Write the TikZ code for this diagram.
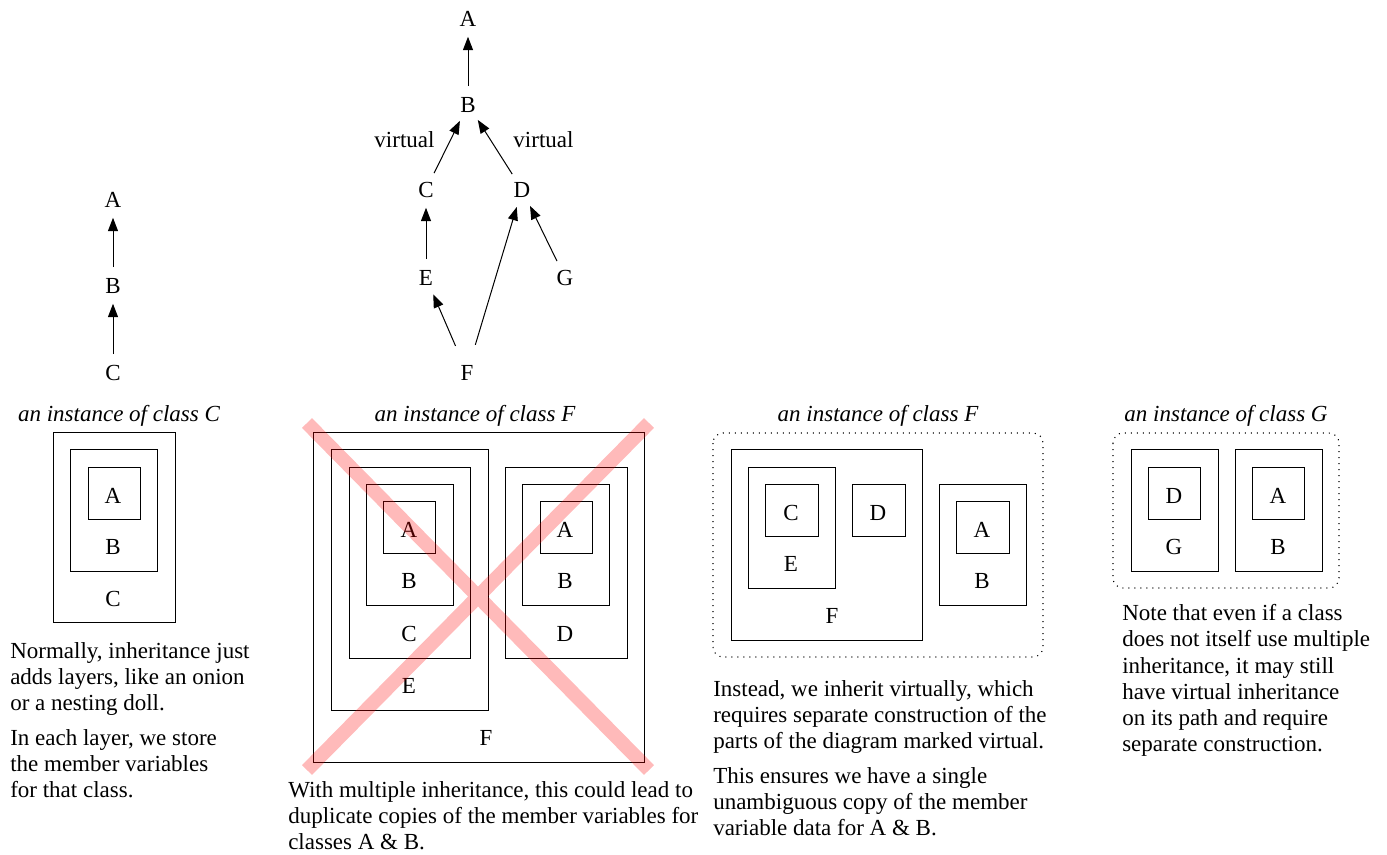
\documentclass[tikz,border=0pt]{standalone}
\usepackage{fontspec}
\setmainfont{Liberation Serif}
\usetikzlibrary{arrows.meta}

\begin{document}
\begin{tikzpicture}[x=0.75pt, y=-0.75pt,
  every node/.style={font=\fontsize{17.25}{19.7}\selectfont},
  cls/.style={circle, inner sep=0pt, minimum size=27pt},
  inh/.style={-{Triangle[length=10pt, width=7.5pt]}, line width=0.75pt},
  layer/.style={draw, line width=0.75pt},
  group/.style={draw, line width=0.8pt, dash pattern=on 0.8pt off 3.7pt, rounded corners=7.5pt},
  inst/.style={font=\fontsize{17.25}{19.7}\selectfont\itshape, anchor=base},
  note/.style={anchor=north west, inner sep=0pt, align=left},
  xmark/.style={draw=red, opacity=0.27, line width=10.5pt}]
  \useasboundingbox (0,0) rectangle (1387,854);

  % plain inheritance
  \node [cls] (a1) at (113,199.5) {A};
  \node [cls] (b1) at (113,285.5) {B};
  \node [cls] (c1) at (113,372.5) {C};
  \draw [inh] (b1) -- (a1);
  \draw [inh] (c1) -- (b1);

  % multiple inheritance
  \node [cls] (a) at (468,18.5) {A};
  \node [cls] (b) at (468,104.5) {B};
  \node [cls] (c) at (426,189.5) {C};
  \node [cls] (d) at (522,189.5) {D};
  \node [cls] (e) at (426,277.5) {E};
  \node [cls] (g) at (565,277.5) {G};
  \node [cls] (f) at (467,372.5) {F};
  \node [anchor=base] (vc) at (404.5,147) {virtual};
  \node [anchor=base] (vd) at (543.5,147) {virtual};
  \draw [inh] (b) -- (a);
  \draw [inh] (c) -- (b);
  \draw [inh] (d) -- (b);
  \draw [inh] (e) -- (c);
  \draw [inh, shorten <=8pt] (f) -- (e);
  \draw [inh, shorten <=8pt] (f) -- (d);
  \draw [inh] (g) -- (d);

  % an instance of class C
  \node [inst] (capC) at (119,421) {an instance of class C};
  \draw [layer] (53,432) rectangle (175,622);
  \draw [layer] (70,449) rectangle (157,571);
  \draw [layer] (88,467) rectangle (140,519);
  \node (lA) at (113,496) {A};
  \node (lB) at (113,547) {B};
  \node (lC) at (113,598.5) {C};

  % an instance of class F, duplicated bases
  \node [inst] (capF) at (475,421) {an instance of class F};
  \draw [layer] (313,432) rectangle (644,762);
  \draw [layer] (331,449) rectangle (488,710);
  \draw [layer] (349,467) rectangle (470,658);
  \draw [layer] (366,484) rectangle (453,605);
  \draw [layer] (383,501) rectangle (435,553);
  \draw [layer] (505,467) rectangle (627,658);
  \draw [layer] (522,484) rectangle (609,605);
  \draw [layer] (540,501) rectangle (592,553);
  \node (dA) at (409,530) {A};
  \node (dB) at (409,581) {B};
  \node (dC) at (409,634) {C};
  \node (dE) at (409,686) {E};
  \node (dF) at (486,738) {F};
  \node (dA2) at (565,530) {A};
  \node (dB2) at (565,581) {B};
  \node (dD) at (565,634) {D};
  \coordinate (x1) at (307,423);
  \coordinate (x2) at (649,770);
  \coordinate (x3) at (649,423);
  \coordinate (x4) at (307,770);
  \draw [xmark] (x1) -- (x2) (x3) -- (x4);

  % an instance of class F, virtual bases
  \node [inst] (capV) at (878,421) {an instance of class F};
  \draw [group] (713,433) rectangle (1043,657);
  \draw [layer] (731,449) rectangle (922,640);
  \draw [layer] (748,467) rectangle (835,588);
  \draw [layer] (765,484) rectangle (818,536);
  \draw [layer] (852,484) rectangle (905,536);
  \draw [layer] (939,484) rectangle (1026,605);
  \draw [layer] (956,501) rectangle (1009,553);
  \node (vC) at (791,513) {C};
  \node (vD) at (878,513) {D};
  \node (vE) at (791,564) {E};
  \node (vF) at (832,616) {F};
  \node (vA) at (982,530) {A};
  \node (vB) at (982,581) {B};

  % an instance of class G
  \node [inst] (capG) at (1226,421) {an instance of class G};
  \draw [group] (1113,433) rectangle (1339,588);
  \draw [layer] (1131,449) rectangle (1218,571);
  \draw [layer] (1148,467) rectangle (1200,519);
  \draw [layer] (1235,449) rectangle (1322,571);
  \draw [layer] (1252,467) rectangle (1304,519);
  \node (gD) at (1174,496) {D};
  \node (gG) at (1174,547) {G};
  \node (gA) at (1278,496) {A};
  \node (gB) at (1278,547) {B};

  % notes
  \node [note] (n1) at (10,642) {Normally, inheritance just\\adds layers, like an onion\\or a nesting doll.};
  \node [note] (n2) at (10,729) {In each layer, we store\\the member variables\\for that class.};
  \node [note] (n3) at (288,781) {With multiple inheritance, this could lead to\\duplicate copies of the member variables for\\classes A \& B.};
  \node [note] (n4) at (713,680) {Instead, we inherit virtually, which\\requires separate construction of the\\parts of the diagram marked virtual.};
  \node [note] (n5) at (713,767) {This ensures we have a single\\unambiguous copy of the member\\variable data for A \& B.};
  \node [note] (n6) at (1122,604) {Note that even if a class\\does not itself use multiple\\inheritance, it may still\\have virtual inheritance\\on its path and require\\separate construction.};
\end{tikzpicture}
\end{document}
